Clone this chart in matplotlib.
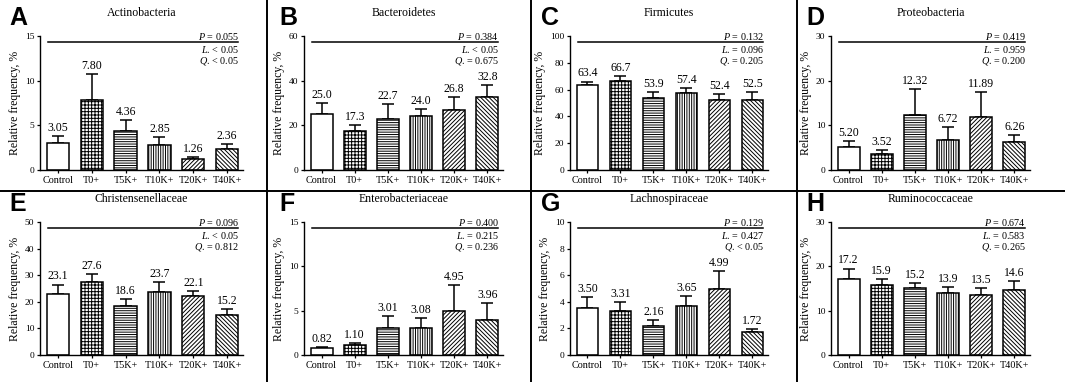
import matplotlib
matplotlib.use("Agg")
import matplotlib.pyplot as plt
from matplotlib.lines import Line2D

plt.rcParams['font.family'] = 'Liberation Serif'
plt.rcParams['mathtext.fontset'] = 'custom'
plt.rcParams['mathtext.rm'] = 'Liberation Serif'
plt.rcParams['mathtext.it'] = 'Liberation Serif:italic'
plt.rcParams['hatch.linewidth'] = 0.7

groups = ["Control", "T0+", "T5K+", "T10K+", "T20K+", "T40K+"]
letters = ["A", "B", "C", "D", "E", "F", "G", "H"]
titles = ["Actinobacteria", "Bacteroidetes", "Firmicutes", "Proteobacteria",
          "Christensenellaceae", "Enterobacteriaceae", "Lachnospiraceae", "Ruminococcaceae"]

# means and upper error (SEM) for each panel
mean_A = [3.05, 7.80, 4.36, 2.85, 1.26, 2.36]
err_A = [0.8, 2.9, 1.25, 0.8, 0.2, 0.5]
mean_B = [25.0, 17.3, 22.7, 24.0, 26.8, 32.8]
err_B = [5.0, 2.7, 6.8, 3.5, 5.9, 5.2]
mean_C = [63.4, 66.7, 53.9, 57.4, 52.4, 52.5]
err_C = [2.6, 3.3, 4.1, 4.1, 4.1, 6.0]
mean_D = [5.20, 3.52, 12.32, 6.72, 11.89, 6.26]
err_D = [1.3, 1.0, 5.9, 2.8, 5.6, 1.65]
mean_E = [23.1, 27.6, 18.6, 23.7, 22.1, 15.2]
err_E = [3.4, 2.7, 2.4, 3.8, 1.9, 2.1]
mean_F = [0.82, 1.10, 3.01, 3.08, 4.95, 3.96]
err_F = [0.08, 0.25, 1.4, 1.07, 2.9, 1.9]
mean_G = [3.50, 3.31, 2.16, 3.65, 4.99, 1.72]
err_G = [0.85, 0.7, 0.45, 0.75, 1.3, 0.2]
mean_H = [17.2, 15.9, 15.2, 13.9, 13.5, 14.6]
err_H = [2.3, 1.3, 1.1, 1.5, 1.7, 2.1]

means = [mean_A, mean_B, mean_C, mean_D, mean_E, mean_F, mean_G, mean_H]
errs = [err_A, err_B, err_C, err_D, err_E, err_F, err_G, err_H]
decimals = [2, 1, 1, 2, 1, 2, 2, 1]
ymax = [15, 60, 100, 30, 50, 15, 10, 30]
ystep = [5, 20, 20, 10, 10, 5, 2, 10]

p_vals = ["= 0.055", "= 0.384", "= 0.132", "= 0.419", "= 0.096", "= 0.400", "= 0.129", "= 0.674"]
l_vals = ["< 0.05", "< 0.05", "= 0.096", "= 0.959", "< 0.05", "= 0.215", "= 0.427", "= 0.583"]
q_vals = ["< 0.05", "= 0.675", "= 0.205", "= 0.200", "= 0.812", "= 0.236", "< 0.05", "= 0.265"]

hatches = ["", "+++++", "-------", "|||||||", "////////", "\\\\\\\\\\\\\\\\"]

W, H = 1065, 382
fig = plt.figure(figsize=(W / 100, H / 100), dpi=100)

# axes boxes in pixels: left, right
col_x = [(40, 243), (304, 503), (570, 768), (831, 1030)]
row_y = [(36, 170), (222, 355)]
letter_x = [9, 279, 541, 806]
letter_y = [18, 204]

for i in range(8):
    r, c = divmod(i, 4)
    x0, x1 = col_x[c]
    yt, yb = row_y[r]
    ax = fig.add_axes([x0 / W, 1 - yb / H, (x1 - x0) / W, (yb - yt) / H])
    x = list(range(len(groups)))
    for j in x:
        ax.bar(j, means[i][j], width=0.66, color="white", edgecolor="black",
               hatch=hatches[j], linewidth=1.1, zorder=2)
    ax.errorbar(x, means[i], yerr=[[0] * 6, errs[i]], fmt="none", ecolor="black",
                elinewidth=1.1, capsize=4, capthick=1.1, zorder=1)
    for j in x:
        top = means[i][j] + errs[i][j]
        ax.annotate(f"{means[i][j]:.{decimals[i]}f}", (j, top), xytext=(0, 1.5),
                    textcoords="offset points", ha="center", va="bottom", fontsize=8.5)
    ax.set_xlim(-0.53, 5.47)
    ax.set_ylim(0, ymax[i])
    ax.set_yticks(range(0, ymax[i] + 1, ystep[i]))
    ax.set_xticks(x)
    ax.set_xticklabels(groups)
    ax.tick_params(axis="both", labelsize=7.3, length=2.5, width=0.9, pad=1.5)
    ax.tick_params(axis="y", labelsize=6.8)
    ax.spines["top"].set_visible(False)
    ax.spines["right"].set_visible(False)
    ax.spines["left"].set_linewidth(1.0)
    ax.spines["bottom"].set_linewidth(1.0)
    ax.set_ylabel("Relative frequency, %", fontsize=8.5, labelpad=3)
    ax.set_title(titles[i], fontsize=8.5, y=1.09)

    # stats
    ax.plot([0.04, 0.975], [0.955, 0.955], transform=ax.transAxes, color="black",
            linewidth=1.1, clip_on=False)
    ax.text(0.98, 1.0, r"$\it{P}$ " + p_vals[i], transform=ax.transAxes,
            ha="right", va="center", fontsize=7.3)
    ax.text(0.98, 0.9, r"$\it{L}$. " + l_vals[i], transform=ax.transAxes,
            ha="right", va="center", fontsize=7.3)
    ax.text(0.98, 0.81, r"$\it{Q}$. " + q_vals[i], transform=ax.transAxes,
            ha="right", va="center", fontsize=7.3)

    fig.text(letter_x[c] / W, 1 - letter_y[r] / H, letters[i], family="Liberation Sans",
             fontweight="bold", fontsize=18, ha="left", va="center")

# panel separators
for xs in [267, 531, 797]:
    fig.add_artist(Line2D([xs / W, xs / W], [0, 1], color="black", linewidth=1.4))
fig.add_artist(Line2D([0, 1], [1 - 191 / H, 1 - 191 / H], color="black", linewidth=1.4))

fig.savefig("out.png", dpi=100)
